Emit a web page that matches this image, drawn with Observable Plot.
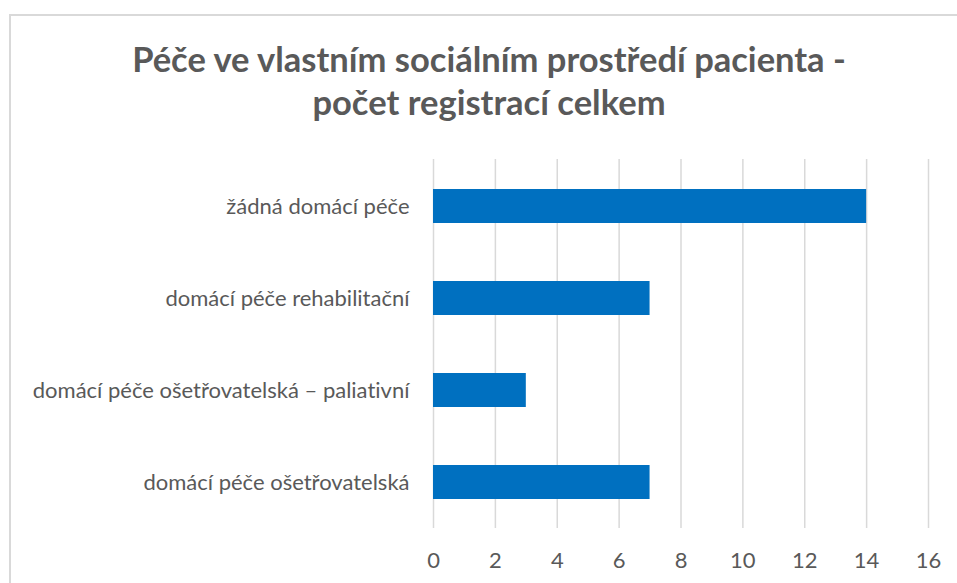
<!DOCTYPE html>
<html><head><meta charset="utf-8">
<script src="https://cdn.jsdelivr.net/npm/d3@7"></script>
<script src="https://cdn.jsdelivr.net/npm/@observablehq/plot@0.6"></script>
<style>
body{margin:0;background:#fff;}
#wrap{position:relative;width:957px;height:583px;overflow:hidden;background:#fff;font-family:Lato,sans-serif;font-variant-ligatures:none;}
#wrap svg text{font-variant-ligatures:none;}
#frame{position:absolute;left:9px;top:14px;width:1000px;height:1000px;border-left:2px solid #d9d9d9;border-top:2px solid #d9d9d9;box-sizing:border-box;}
#title{position:absolute;left:0;width:978px;top:37px;text-align:center;font-weight:700;font-size:34.5px;color:#595959;line-height:43px;}
#chart{position:absolute;left:0;top:0;}
</style>
</head><body>
<div id="wrap">
  <div id="frame"></div>
  <div id="chart"></div>
  <div id="title">Péče ve vlastním sociálním prostředí pacienta -<br>počet registrací celkem</div>
</div>
<script>
const categories = ["žádná domácí péče", "domácí péče rehabilitační", "domácí péče ošetřovatelská – paliativní", "domácí péče ošetřovatelská"];
const values = [14, 7, 3, 7];
const xTicks = [0, 2, 4, 6, 8, 10, 12, 14, 16];

const data = categories.map((c, i) => ({category: c, value: values[i]}));

const chart = Plot.plot({
  width: 957,
  height: 583,
  marginTop: 159,
  marginBottom: 55,
  marginLeft: 433,
  marginRight: 29,
  style: {fontFamily: "Lato, sans-serif", fontSize: "22px", color: "#595959", background: "transparent", overflow: "visible"},
  x: {domain: [0, 16], label: null},
  y: {domain: categories, label: null, paddingInner: 0.635, paddingOuter: 0.3175},
  marks: [
    Plot.gridX(xTicks, {stroke: "#d9d9d9", strokeOpacity: 1, strokeWidth: 1.5}),
    Plot.barX(data, {x: "value", y: "category", fill: "#0070C0"}),
    Plot.axisX(xTicks, {tickSize: 0, tickPadding: 24, fontSize: 22, fill: "#595959", label: null}),
    Plot.axisY({tickSize: 0, tickPadding: 24, fontSize: 22, fill: "#595959", label: null})
  ]
});
document.getElementById("chart").appendChild(chart);
</script>
</body></html>
